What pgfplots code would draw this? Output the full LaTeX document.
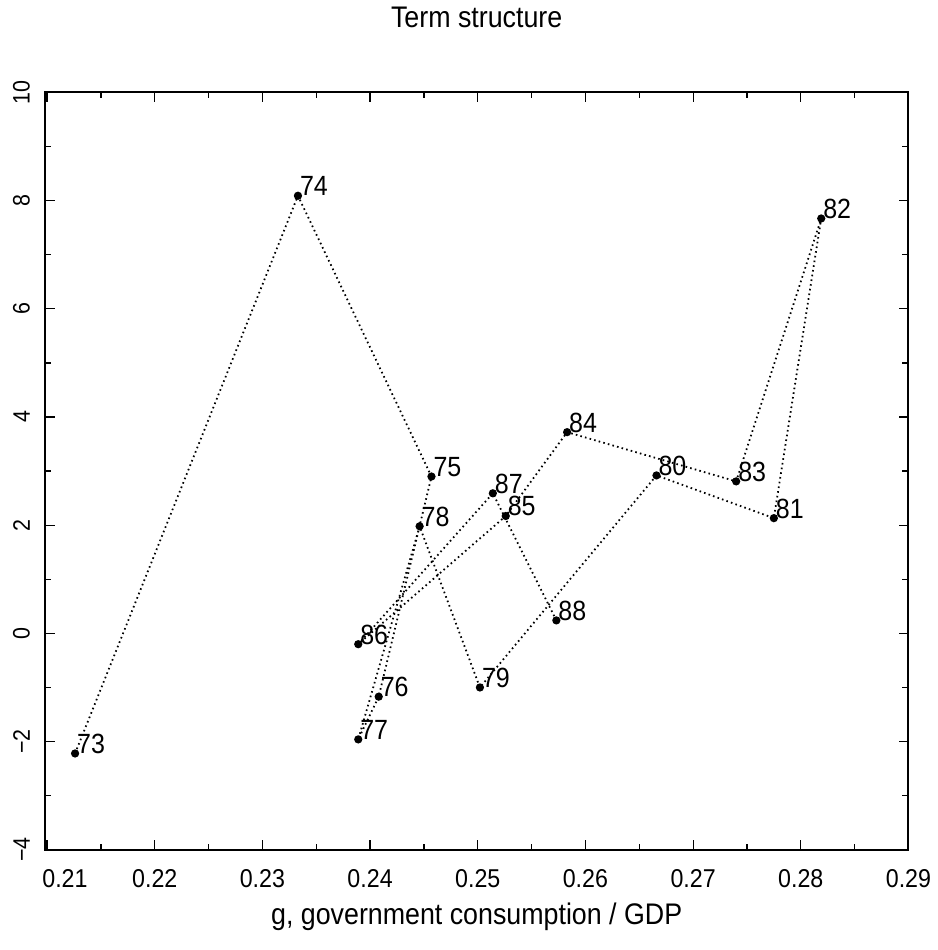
\documentclass[border=0pt]{standalone}
\usepackage{fontspec}
\setmainfont{Liberation Sans}[FakeStretch=0.9]
\usepackage{pgfplots}
\usepackage{pgfplotstable}
\pgfplotsset{compat=1.18}

% year-by-year path: g vs term structure
\pgfplotstableread{
x       y      yr
0.2126  -2.22  73
0.2333   8.09  74
0.2457   2.90  75
0.2408  -1.17  76
0.2389  -1.96  77
0.2446   1.98  78
0.2502  -1.00  79
0.2666   2.92  80
0.2775   2.13  81
0.2819   7.67  82
0.2740   2.81  83
0.2583   3.72  84
0.2526   2.17  85
0.2389  -0.20  86
0.2514   2.59  87
0.2573   0.24  88
}\termdata

\begin{document}
\begin{tikzpicture}
\begin{axis}[
  scale only axis, width=435pt, height=381.5pt,
  xmin=0.2098, xmax=0.29, ymin=-4, ymax=10,
  xtick={0.21,0.22,0.23,0.24,0.25,0.26,0.27,0.28,0.29},
  xticklabels={\hspace*{18pt}0.21,0.22,0.23,0.24,0.25,0.26,0.27,0.28,0.29},
  ytick={-4,-2,0,2,4,6,8,10},
  yticklabels={−4,−2,0,2,4,6,8,10},
  minor x tick num=1, minor y tick num=1,
  tick align=inside, major tick length=5pt, minor tick length=3pt,
  axis line style={line width=1pt},
  every tick/.style={black, line width=0.6pt},
  xticklabel style={font=\fontsize{13}{13}\selectfont, anchor=center, yshift=-14.5pt},
  yticklabel style={font=\fontsize{12}{12}\selectfont, xshift=-4pt, rotate=90, anchor=south},
  title={Term structure},
  title style={font=\fontsize{15}{18}\selectfont, at={(0.5,1)}, anchor=center, yshift=32pt},
  xlabel={g, government consumption / GDP},
  xlabel style={font=\fontsize{15}{18}\selectfont, at={(0.5,0)}, anchor=center, yshift=-34pt},
  clip=false,
]
\addplot[black, line width=0.9pt, dash pattern=on 0.8pt off 1.6pt,
  mark=*, mark size=1.6pt, mark options={solid},
  point meta=explicit symbolic, nodes near coords,
  nodes near coords style={anchor=base west, inner sep=0.6pt, font=\fontsize{14}{14}\selectfont}]
  table[x=x, y=y, meta=yr] {\termdata};
\end{axis}
\path ([shift={(-20pt,-50.5pt)}]current axis.south west) rectangle ([shift={(13.5pt,43pt)}]current axis.north east);
\end{tikzpicture}
\end{document}
